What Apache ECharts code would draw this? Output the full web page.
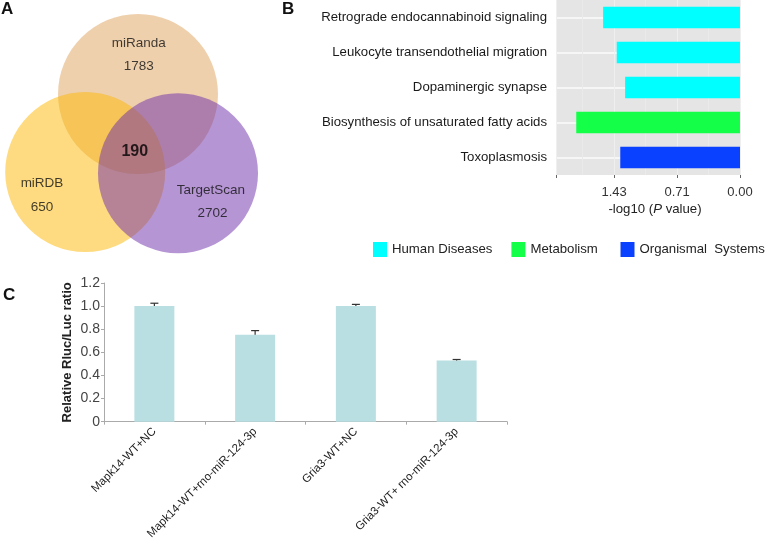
<!DOCTYPE html>
<html>
<head>
<meta charset="utf-8">
<script src="https://cdn.jsdelivr.net/npm/echarts@6/dist/echarts.min.js"></script>
<style>
html,body{margin:0;padding:0;background:#fff;}
#chart{width:767px;height:542px;}
</style>
</head>
<body>
<div id="chart"></div>
<script>
// ---------- Panel A: Venn diagram (units = circle radius) ----------
var vennSets = ['miRanda', 'miRDB', 'TargetScan'];
var vennCenterX = [0.05, -0.61, 0.55];
var vennCenterY = [0.65, -0.325, -0.34];
var vennRadius = [1, 1, 1];
var vennColors = ['#dda15b', '#fdb701', '#6b2ba9'];
var vennTexts = ['miRanda', '1783', '190', 'miRDB', '650', 'TargetScan', '2702'];
var vennTextX = [0.06, 0.06, 0.01, -1.15, -1.15, 0.96, 0.98];
var vennTextY = [1.29, 1.0, -0.075, -0.46, -0.76, -0.55, -0.84];

// ---------- Panel B: KEGG enrichment ----------
var pathways = ['Retrograde endocannabinoid signaling', 'Leukocyte transendothelial migration',
  'Dopaminergic synapse', 'Biosynthesis of unsaturated fatty acids', 'Toxoplasmosis'];
var logP = [1.555, 1.40, 1.305, 1.86, 1.36];
var pathwayGroup = ['Human Diseases', 'Human Diseases', 'Human Diseases', 'Metabolism', 'Organismal  Systems'];
var groups = ['Human Diseases', 'Metabolism', 'Organismal  Systems'];
var groupColors = ['#00ffff', '#14ff48', '#0a40ff'];
var bTickValues = [0, 0.715, 1.43];
var bTickLabels = ['0.00', '0.71', '1.43'];

// ---------- Panel C: luciferase assay ----------
var constructs = ['Mapk14-WT+NC', 'Mapk14-WT+rno-miR-124-3p', 'Gria3-WT+NC', 'Gria3-WT+ rno-miR-124-3p'];
var ratio = [1.0, 0.752, 1.0, 0.53];
var ratioErr = [0.025, 0.036, 0.015, 0.008];

var FONT = 'Liberation Sans, Arial, sans-serif';

var chart = echarts.init(document.getElementById('chart'), null, {renderer: 'canvas'});

var bSeries = groups.map(function (g, gi) {
  return {
    name: g,
    type: 'bar',
    stack: 'kegg',
    xAxisIndex: 1,
    yAxisIndex: 1,
    barWidth: '62%',
    itemStyle: {color: groupColors[gi]},
    data: logP.map(function (v, i) { return pathwayGroup[i] === g ? v : '-'; })
  };
});

var option = {
  backgroundColor: '#fff',
  animation: false,
  textStyle: {fontFamily: FONT},
  title: [
    {text: 'A', left: 1, top: 1, padding: 0, textStyle: {fontSize: 17, fontWeight: 'bold', color: '#111', fontFamily: FONT}},
    {text: 'B', left: 282, top: 1, padding: 0, textStyle: {fontSize: 17, fontWeight: 'bold', color: '#111', fontFamily: FONT}},
    {text: 'C', left: 3, top: 287, padding: 0, textStyle: {fontSize: 17, fontWeight: 'bold', color: '#111', fontFamily: FONT}}
  ],
  legend: {
    data: groups,
    left: 373, top: 242, padding: 0,
    icon: 'rect',
    itemWidth: 14, itemHeight: 15, itemGap: 19,
    formatter: function (name) { return name === 'Metabolism' ? name + ' ' : name; },
    textStyle: {fontSize: 13.2, color: '#222', fontFamily: FONT}
  },
  grid: [
    {left: 0, top: 0, width: 260, height: 260, show: false},
    {left: 556, top: 0, width: 184, height: 175, show: true, backgroundColor: '#e5e5e5', borderWidth: 0},
    {left: 104, top: 283, width: 403, height: 142, show: false}
  ],
  xAxis: [
    {gridIndex: 0, type: 'value', min: -1.675, max: 1.575, show: false},
    {gridIndex: 1, type: 'value', min: 0, max: 2.09, interval: 0.715, inverse: true,
      axisLine: {show: false},
      axisTick: {show: true, length: 3, lineStyle: {color: '#666'}},
      axisLabel: {margin: 11, fontSize: 13, color: '#333', fontFamily: FONT,
        formatter: function (v) {
          for (var k = 0; k < bTickValues.length; k++) {
            if (Math.abs(v - bTickValues[k]) < 1e-6) return bTickLabels[k];
          }
          return '';
        }},
      splitLine: {show: true, lineStyle: {color: '#efefef', width: 1}},
      minorTick: {show: false, splitNumber: 2},
      minorSplitLine: {show: true, lineStyle: {color: '#eaeaea', width: 1}},
      name: '-log10 ({i|P} value)', nameLocation: 'middle', nameGap: 28,
      nameTextStyle: {fontSize: 13.2, color: '#222', fontFamily: FONT, padding: [0, 0, 0, 14],
        rich: {i: {fontStyle: 'italic', fontSize: 13.2, color: '#222', fontFamily: FONT}}}
    },
    {gridIndex: 2, type: 'category', data: constructs,
      axisLine: {lineStyle: {color: '#aaa'}},
      axisTick: {show: true, length: 3, lineStyle: {color: '#aaa'}},
      axisLabel: {rotate: 45, interval: 0, margin: 8, fontSize: 11.5, color: '#222', fontFamily: FONT}
    }
  ],
  yAxis: [
    {gridIndex: 0, type: 'value', min: -1.425, max: 1.825, show: false},
    {gridIndex: 1, type: 'category', data: pathways, inverse: true,
      axisLine: {show: false},
      axisTick: {show: true, length: 3, alignWithLabel: true, lineStyle: {color: '#444'}},
      axisLabel: {margin: 9, fontSize: 13.2, color: '#1a1a1a', fontFamily: FONT},
      splitLine: {show: true, alignWithLabel: true, lineStyle: {color: '#fbfbfb', width: 1.5}}
    },
    {gridIndex: 2, type: 'value', min: 0, max: 1.2, interval: 0.2,
      axisLine: {show: true, lineStyle: {color: '#aaa'}},
      axisTick: {show: true, length: 3, lineStyle: {color: '#aaa'}},
      splitLine: {show: false},
      axisLabel: {margin: 4, fontSize: 14, color: '#444', fontFamily: FONT,
        formatter: function (v) { return v === 0 ? '0' : v.toFixed(1); }},
      name: 'Relative Rluc/Luc ratio', nameLocation: 'middle', nameGap: 30,
      nameMoveOverlap: false,
      nameTextStyle: {fontSize: 13, fontWeight: 'bold', color: '#222', fontFamily: FONT}
    }
  ],
  series: [
    {
      type: 'custom',
      xAxisIndex: 0, yAxisIndex: 0,
      silent: true,
      data: vennSets.map(function (s, i) { return [vennCenterX[i], vennCenterY[i], vennRadius[i]]; }),
      renderItem: function (params, api) {
        var c = api.coord([api.value(0), api.value(1)]);
        var r = api.size([api.value(2), 0])[0];
        return {
          type: 'circle',
          shape: {cx: c[0], cy: c[1], r: r},
          style: {fill: vennColors[params.dataIndex], opacity: 0.5}
        };
      },
      z: 1
    },
    {
      type: 'scatter',
      xAxisIndex: 0, yAxisIndex: 0,
      symbolSize: 1,
      itemStyle: {color: 'rgba(0,0,0,0)'},
      silent: true,
      z: 5,
      data: vennTexts.map(function (t, i) {
        var item = {name: t, value: [vennTextX[i], vennTextY[i]]};
        if (t === '190') item.label = {fontWeight: 'bold', fontSize: 16, color: '#000'};
        return item;
      }),
      label: {show: true, position: 'inside', formatter: '{b}', fontSize: 13.5, color: '#111', fontFamily: FONT}
    }
  ].concat(bSeries).concat([
    {
      type: 'bar',
      xAxisIndex: 2, yAxisIndex: 2,
      barWidth: 40,
      itemStyle: {color: '#b9dfe2'},
      data: ratio,
      z: 2
    },
    {
      type: 'custom',
      xAxisIndex: 2, yAxisIndex: 2,
      silent: true,
      z: 3,
      data: ratio.map(function (v, i) { return [i, v, ratioErr[i]]; }),
      renderItem: function (params, api) {
        var p1 = api.coord([api.value(0), api.value(1)]);
        var p2 = api.coord([api.value(0), api.value(1) + api.value(2)]);
        var st = {stroke: '#333', lineWidth: 1.2};
        return {
          type: 'group',
          children: [
            {type: 'line', shape: {x1: p1[0], y1: p1[1], x2: p2[0], y2: p2[1]}, style: st},
            {type: 'line', shape: {x1: p2[0] - 4, y1: p2[1], x2: p2[0] + 4, y2: p2[1]}, style: st}
          ]
        };
      }
    }
  ])
};

chart.setOption(option);
</script>
</body>
</html>
